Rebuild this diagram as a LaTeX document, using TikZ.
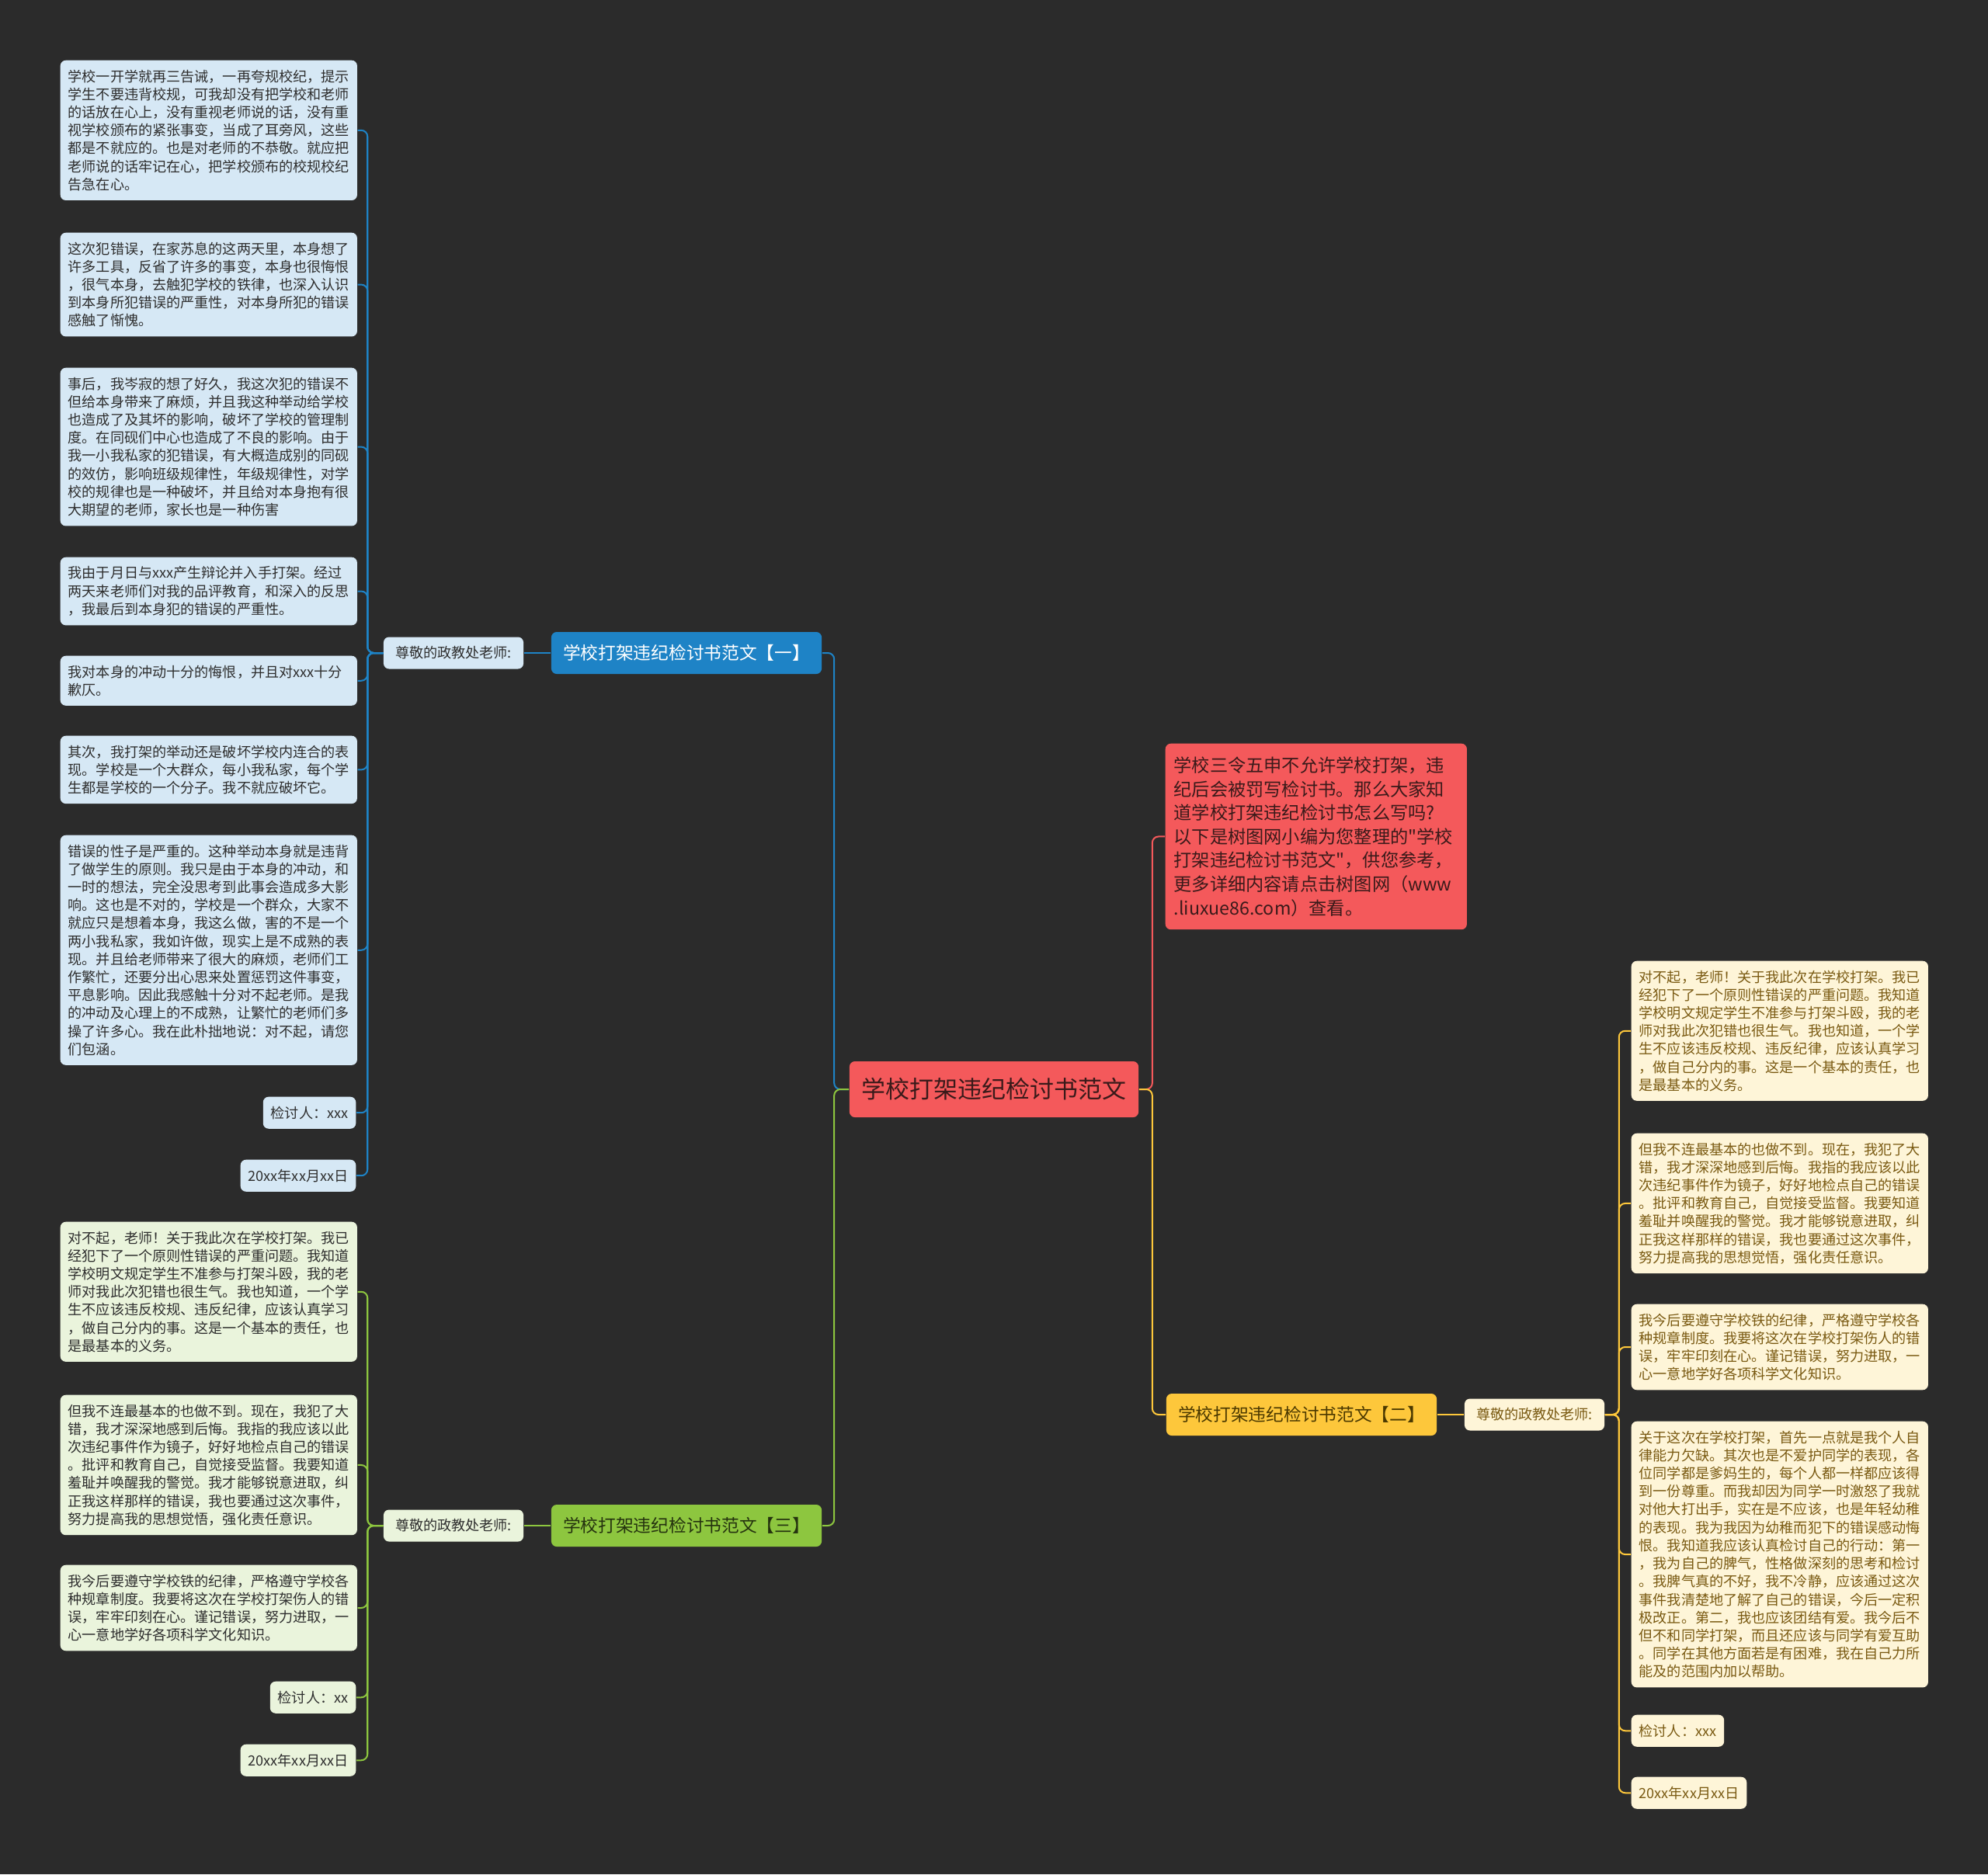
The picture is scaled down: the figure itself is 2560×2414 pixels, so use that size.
\documentclass[tikz,border=0pt]{standalone}
\usepackage{fontspec}
\setmainfont{Noto Sans CJK SC}[Ligatures=TeXOff]
\definecolor{bgdark}{HTML}{2B2B2B}
\definecolor{mainred}{HTML}{F4595B}
\definecolor{redtext}{HTML}{3A1A1A}
\definecolor{brblue}{HTML}{1E83C6}
\definecolor{lightblue}{HTML}{D6E8F5}
\definecolor{bryellow}{HTML}{FDC73B}
\definecolor{yeltext}{HTML}{4A3800}
\definecolor{cream}{HTML}{FEF5D8}
\definecolor{creamtext}{HTML}{7A5A12}
\definecolor{brgreen}{HTML}{8DC63F}
\definecolor{greentext}{HTML}{25330F}
\definecolor{lightgreen}{HTML}{EAF4DC}
\definecolor{leaftext}{HTML}{2E2E2E}
\begin{document}
\begin{tikzpicture}[x=0.01cm,y=-0.01cm,
	leaf/.style={anchor=north west,rounded corners=0.07cm,text width=3.62cm,inner xsep=0.1cm,inner ysep=0.12cm,align=left,font=\fontsize{5.15}{6.6}\selectfont},
	tagl/.style={anchor=north east,rounded corners=0.07cm,inner xsep=0.1cm,inner ysep=0pt,minimum height=0.41cm,font=\fontsize{5.15}{6.6}\selectfont},
	tagr/.style={tagl,anchor=north west},
	dear/.style={rounded corners=0.07cm,minimum width=1.8cm,minimum height=0.41cm,inner sep=0pt,font=\fontsize{5.15}{6.6}\selectfont},
	branch/.style={rounded corners=0.07cm,minimum width=3.48cm,minimum height=0.54cm,inner sep=0pt,font=\fontsize{6.45}{7.7}\selectfont},
	inb/.style={fill=lightblue,text=leaftext},
	ing/.style={fill=lightgreen,text=leaftext},
	iny/.style={fill=cream,text=creamtext},
	lb/.style={draw=brblue,line width=0.02cm,rounded corners=0.08cm},
	lg/.style={draw=brgreen,line width=0.02cm,rounded corners=0.08cm},
	ly/.style={draw=bryellow,line width=0.02cm,rounded corners=0.08cm},
	lr/.style={draw=mainred,line width=0.02cm,rounded corners=0.08cm}]
	\fill[bgdark] (0,0) rectangle (2560,2414);
	\useasboundingbox (0,0) rectangle (2560,2414);
	% centre and intro
	\node[fill=mainred,text=redtext,rounded corners=0.07cm,minimum width=3.72cm,minimum height=0.72cm,inner sep=0pt,font=\fontsize{8.8}{10}\selectfont] (center) at (1280,1403) {学校打架违纪检讨书范文};
	\node[anchor=north west,fill=mainred,text=redtext,rounded corners=0.07cm,text width=3.66cm,inner xsep=0.11cm,inner ysep=0.17cm,align=left,font=\fontsize{6.6}{8.7}\selectfont] (intro) at (1500,957) {学校三令五申不允许学校打架，违\\纪后会被罚写检讨书。那么大家知\\道学校打架违纪检讨书怎么写吗?\\以下是树图网小编为您整理的"学校\\打架违纪检讨书范文"，供您参考，\\更多详细内容请点击树图网（www\\.liuxue86.com）查看。};
	% branches
	\node[branch,fill=brblue,text=white] (one) at (884,841) {学校打架违纪检讨书范文【一】};
	\node[branch,fill=bryellow,text=yeltext] (two) at (1676,1822) {学校打架违纪检讨书范文【二】};
	\node[branch,fill=brgreen,text=greentext] (three) at (884,1965) {学校打架违纪检讨书范文【三】};
	\node[dear,inb] (dear1) at (584,841) {尊敬的政教处老师:};
	\node[dear,iny] (dear2) at (1976,1822) {尊敬的政教处老师:};
	\node[dear,ing] (dear3) at (584,1965) {尊敬的政教处老师:};
	% first essay
	\node[leaf,inb] (b1) at (77,77) {学校一开学就再三告诫，一再夸规校纪，提示\\学生不要违背校规，可我却没有把学校和老师\\的话放在心上，没有重视老师说的话，没有重\\视学校颁布的紧张事变，当成了耳旁风，这些\\都是不就应的。也是对老师的不恭敬。就应把\\老师说的话牢记在心，把学校颁布的校规校纪\\告急在心。};
	\node[leaf,inb] (b2) at (77,299) {这次犯错误，在家苏息的这两天里，本身想了\\许多工具，反省了许多的事变，本身也很悔恨\\，很气本身，去触犯学校的铁律，也深入认识\\到本身所犯错误的严重性，对本身所犯的错误\\感触了惭愧。};
	\node[leaf,inb] (b3) at (77,473) {事后，我岑寂的想了好久，我这次犯的错误不\\但给本身带来了麻烦，并且我这种举动给学校\\也造成了及其坏的影响，破坏了学校的管理制\\度。在同砚们中心也造成了不良的影响。由于\\我一小我私家的犯错误，有大概造成别的同砚\\的效仿，影响班级规律性，年级规律性，对学\\校的规律也是一种破坏，并且给对本身抱有很\\大期望的老师，家长也是一种伤害};
	\node[leaf,inb] (b4) at (77,717) {我由于月日与xxx产生辩论并入手打架。经过\\两天来老师们对我的品评教育，和深入的反思\\，我最后到本身犯的错误的严重性。};
	\node[leaf,inb] (b5) at (77,844) {我对本身的冲动十分的悔恨，并且对xxx十分\\歉仄。};
	\node[leaf,inb] (b6) at (77,947) {其次，我打架的举动还是破坏学校内连合的表\\现。学校是一个大群众，每小我私家，每个学\\生都是学校的一个分子。我不就应破坏它。};
	\node[leaf,inb] (b7) at (77,1075) {错误的性子是严重的。这种举动本身就是违背\\了做学生的原则。我只是由于本身的冲动，和\\一时的想法，完全没思考到此事会造成多大影\\响。这也是不对的，学校是一个群众，大家不\\就应只是想着本身，我这么做，害的不是一个\\两小我私家，我如许做，现实上是不成熟的表\\现。并且给老师带来了很大的麻烦，老师们工\\作繁忙，还要分出心思来处置惩罚这件事变，\\平息影响。因此我感触十分对不起老师。是我\\的冲动及心理上的不成熟，让繁忙的老师们多\\操了许多心。我在此朴拙地说：对不起，请您\\们包涵。};
	\node[tagl,inb] (b8) at (459,1412) {检讨人：xxx};
	\node[tagl,inb] (b9) at (459,1493) {20xx年xx月xx日};
	% third essay
	\node[leaf,ing] (g1) at (77,1573) {对不起，老师！关于我此次在学校打架。我已\\经犯下了一个原则性错误的严重问题。我知道\\学校明文规定学生不准参与打架斗殴，我的老\\师对我此次犯错也很生气。我也知道，一个学\\生不应该违反校规、违反纪律，应该认真学习\\，做自己分内的事。这是一个基本的责任，也\\是最基本的义务。};
	\node[leaf,ing] (g2) at (77,1796) {但我不连最基本的也做不到。现在，我犯了大\\错，我才深深地感到后悔。我指的我应该以此\\次违纪事件作为镜子，好好地检点自己的错误\\。批评和教育自己，自觉接受监督。我要知道\\羞耻并唤醒我的警觉。我才能够锐意进取，纠\\正我这样那样的错误，我也要通过这次事件，\\努力提高我的思想觉悟，强化责任意识。};
	\node[leaf,ing] (g3) at (77,2015) {我今后要遵守学校铁的纪律，严格遵守学校各\\种规章制度。我要将这次在学校打架伤人的错\\误，牢牢印刻在心。谨记错误，努力进取，一\\心一意地学好各项科学文化知识。};
	\node[tagl,ing] (g4) at (459,2165) {检讨人：xx};
	\node[tagl,ing] (g5) at (459,2246) {20xx年xx月xx日};
	% second essay
	\node[leaf,iny] (r1) at (2100,1237) {对不起，老师！关于我此次在学校打架。我已\\经犯下了一个原则性错误的严重问题。我知道\\学校明文规定学生不准参与打架斗殴，我的老\\师对我此次犯错也很生气。我也知道，一个学\\生不应该违反校规、违反纪律，应该认真学习\\，做自己分内的事。这是一个基本的责任，也\\是最基本的义务。};
	\node[leaf,iny] (r2) at (2100,1459) {但我不连最基本的也做不到。现在，我犯了大\\错，我才深深地感到后悔。我指的我应该以此\\次违纪事件作为镜子，好好地检点自己的错误\\。批评和教育自己，自觉接受监督。我要知道\\羞耻并唤醒我的警觉。我才能够锐意进取，纠\\正我这样那样的错误，我也要通过这次事件，\\努力提高我的思想觉悟，强化责任意识。};
	\node[leaf,iny] (r3) at (2100,1679) {我今后要遵守学校铁的纪律，严格遵守学校各\\种规章制度。我要将这次在学校打架伤人的错\\误，牢牢印刻在心。谨记错误，努力进取，一\\心一意地学好各项科学文化知识。};
	\node[leaf,iny] (r4) at (2100,1830) {关于这次在学校打架，首先一点就是我个人自\\律能力欠缺。其次也是不爱护同学的表现，各\\位同学都是爹妈生的，每个人都一样都应该得\\到一份尊重。而我却因为同学一时激怒了我就\\对他大打出手，实在是不应该，也是年轻幼稚\\的表现。我为我因为幼稚而犯下的错误感动悔\\恨。我知道我应该认真检讨自己的行动：第一\\，我为自己的脾气，性格做深刻的思考和检讨\\。我脾气真的不好，我不冷静，应该通过这次\\事件我清楚地了解了自己的错误，今后一定积\\极改正。第二，我也应该团结有爱。我今后不\\但不和同学打架，而且还应该与同学有爱互助\\。同学在其他方面若是有困难，我在自己力所\\能及的范围内加以帮助。};
	\node[tagr,iny] (r5) at (2100,2208) {检讨人：xxx};
	\node[tagr,iny] (r6) at (2100,2288) {20xx年xx月xx日};
	% connectors
	\draw[lb] (center.west) -- ++(-19,0) |- (one.east);
	\draw[lg] (center.west) -- ++(-19,0) |- (three.east);
	\draw[lr] (center.east) -- ++(17,0) |- (intro.west);
	\draw[ly] (center.east) -- ++(17,0) |- (two.west);
	\draw[lb] (one.west) -- (dear1.east);
	\draw[lg] (three.west) -- (dear3.east);
	\draw[ly] (two.east) -- (dear2.west);
	\foreach \n in {b1,b2,b3,b4,b5,b6,b7,b8,b9}
		\draw[lb] (dear1.west) -- ++(-20,0) |- (\n.east);
	\foreach \n in {g1,g2,g3,g4,g5}
		\draw[lg] (dear3.west) -- ++(-20,0) |- (\n.east);
	\foreach \n in {r1,r2,r3,r4,r5,r6}
		\draw[ly] (dear2.east) -- ++(18,0) |- (\n.west);
\end{tikzpicture}
\end{document}
